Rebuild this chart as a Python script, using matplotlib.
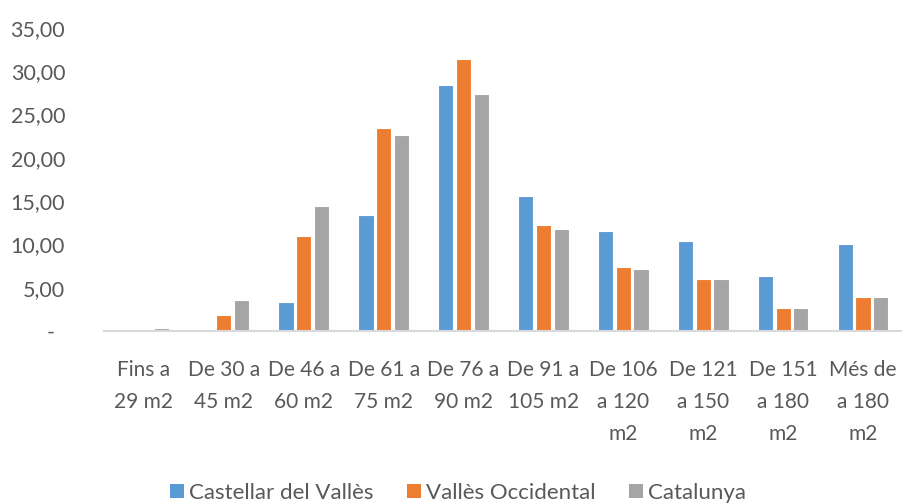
import numpy as np
import matplotlib
matplotlib.use("Agg")
import matplotlib.pyplot as plt
import matplotlib.transforms as mtransforms
from matplotlib.patches import Patch

categories = ["Fins a\n29 m2", "De 30 a\n45 m2", "De 46 a\n60 m2", "De 61 a\n75 m2",
              "De 76 a\n90 m2", "De 91 a\n105 m2", "De 106\na 120\nm2", "De 121\na 150\nm2",
              "De 151\na 180\nm2", "Més de\na 180\nm2"]
castellar = [0.0, 0.0, 3.37, 13.4, 28.4, 15.55, 11.5, 10.35, 6.4, 10.0]
valles = [0.15, 1.82, 10.95, 23.5, 31.4, 12.2, 7.37, 5.95, 2.6, 3.87]
catalunya = [0.3, 3.6, 14.4, 22.65, 27.35, 11.8, 7.2, 6.06, 2.68, 3.87]
series_names = ["Castellar del Vallès", "Vallès Occidental", "Catalunya"]
colors = ["#5B9BD5", "#ED7D31", "#A5A5A5"]
yticks = [0, 5, 10, 15, 20, 25, 30, 35]

plt.rcParams['font.family'] = ['Lato', 'DejaVu Sans']
txt = "#595959"

fig = plt.figure(figsize=(9.03, 5.03), dpi=100)
ax = fig.add_axes([104/903, 1-331/503, 799/903, (331-28)/503])

x = np.arange(len(categories))
step = 0.2215
w = 0.19
for i, (vals, c) in enumerate(zip([castellar, valles, catalunya], colors)):
    ax.bar(x + (i-1)*step, vals, width=w, color=c, edgecolor="white", linewidth=0.8, zorder=2)

ax.set_xlim(-0.5, len(categories)-0.5)
ax.set_ylim(0, 35)
ax.set_yticks(yticks)
ax.set_yticklabels(["-" if v == 0 else f"{v:.2f}".replace(".", ",") for v in yticks])
ax.set_xticks(x)
ax.set_xticklabels(categories, linespacing=1.74, va="top")
ax.tick_params(axis="both", length=0, colors=txt, labelsize=15.5)
ax.tick_params(axis="y", pad=28)
ax.tick_params(axis="x", pad=21)
for lab in ax.get_xticklabels():
    lab.set_fontsize(15)

zero_lab = ax.get_yticklabels()[0]
zero_lab.set_transform(zero_lab.get_transform() + mtransforms.ScaledTranslation(-10/100, 0, fig.dpi_scale_trans))

for s in ["top", "right", "left"]:
    ax.spines[s].set_visible(False)
ax.spines["bottom"].set_color("#D9D9D9")
ax.spines["bottom"].set_linewidth(1.5)

handles = [Patch(facecolor=c, edgecolor="none") for c in colors]
fig.legend(handles, series_names, loc="lower center", bbox_to_anchor=(458/903, 0.0),
           ncol=3, frameon=False, fontsize=16, labelcolor=txt,
           handlelength=0.63, handleheight=0.63, handletextpad=0.22, columnspacing=1.5,
           borderpad=0, borderaxespad=0)

fig.savefig("out.png", dpi=100)
